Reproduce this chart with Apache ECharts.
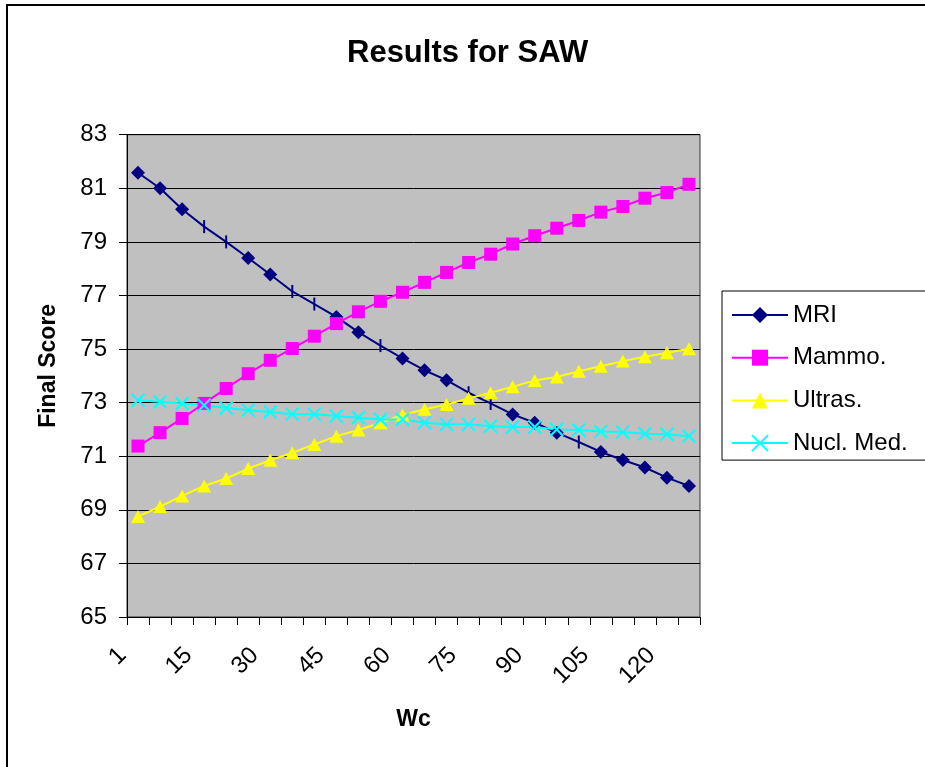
<!DOCTYPE html>
<html>
<head>
<meta charset="utf-8">
<script src="https://cdn.jsdelivr.net/npm/echarts@6/dist/echarts.min.js"></script>
<style>
html,body{margin:0;padding:0;background:#fff;}
#chart{width:925px;height:767px;}
</style>
</head>
<body>
<div id="chart"></div>
<script>
const categories = ['1','5','10','15','20','25','30','35','40','45','50','55','60','65','70','75','80','85','90','95','100','105','110','115','120','125'];
const mri = [81.58, 81.0, 80.22, 79.57, 79.0, 78.4, 77.78, 77.15, 76.68, 76.2, 75.63, 75.13, 74.65, 74.21, 73.84, 73.37, 72.97, 72.56, 72.25, 71.88, 71.53, 71.16, 70.86, 70.58, 70.2, 69.89];
const mammo = [71.38, 71.88, 72.41, 72.97, 73.53, 74.08, 74.58, 75.02, 75.48, 75.95, 76.39, 76.78, 77.12, 77.49, 77.86, 78.23, 78.54, 78.92, 79.23, 79.51, 79.8, 80.11, 80.32, 80.63, 80.84, 81.15];
const ultras = [68.75, 69.12, 69.52, 69.89, 70.17, 70.54, 70.85, 71.13, 71.44, 71.75, 71.98, 72.25, 72.54, 72.75, 72.93, 73.16, 73.37, 73.59, 73.83, 73.96, 74.17, 74.36, 74.55, 74.71, 74.86, 75.01];
const nuclMed = [73.09, 73.03, 72.97, 72.9, 72.8, 72.72, 72.65, 72.57, 72.57, 72.5, 72.44, 72.37, 72.37, 72.25, 72.19, 72.19, 72.12, 72.09, 72.09, 72.0, 71.98, 71.92, 71.9, 71.84, 71.82, 71.75];
const seriesNames = ['MRI', 'Mammo.', 'Ultras.', 'Nucl. Med.'];
const yTicks = {min: 65, max: 83, interval: 2};
// MRI points that are drawn as a thin vertical stroke in the original
const thinMarkerIdx = [3, 4, 7, 8, 11, 15, 16, 20];

const FONT = "'Liberation Sans', Arial, sans-serif";
const chart = echarts.init(document.getElementById('chart'), null, {renderer: 'canvas'});

const mriData = mri.map((v, i) => thinMarkerIdx.includes(i)
  ? {value: v, symbol: 'rect', symbolSize: [2, 13]}
  : v);

const crossPath = 'path://M0,0L10,10M10,0L0,10';

chart.setOption({
  animation: false,
  backgroundColor: '#ffffff',
  textStyle: {fontFamily: FONT},
  title: {
    text: 'Results for SAW',
    left: 347, top: 38,
    padding: 0,
    textStyle: {fontFamily: FONT, fontSize: 31, fontWeight: 'bold', color: '#000'}
  },
  graphic: [{
    type: 'rect',
    shape: {x: 7, y: 5, width: 940, height: 800},
    style: {fill: 'none', stroke: '#000', lineWidth: 2},
    silent: true, z: 100
  }],
  legend: {
    orient: 'vertical',
    left: 722, top: 291,
    padding: [12, 20, 5, 9],
    itemWidth: 56, itemHeight: 20, itemGap: 18.7,
    borderColor: '#000', borderWidth: 1,
    backgroundColor: '#fff',
    textStyle: {fontFamily: FONT, fontSize: 24, color: '#000', lineHeight: 24, padding: [0, 0, 0, 0]},
    data: seriesNames
  },
  grid: {
    left: 127, right: 225, top: 134.7, bottom: 150,
    show: true, backgroundColor: '#c0c0c0', borderColor: '#333', borderWidth: 1,
    containLabel: false
  },
  xAxis: {
    type: 'category',
    data: categories,
    boundaryGap: true,
    name: 'Wc',
    nameLocation: 'middle',
    nameGap: 91,
    nameTextStyle: {fontFamily: FONT, fontSize: 23, fontWeight: 'bold', color: '#000'},
    axisLine: {lineStyle: {color: '#000', width: 1}},
    axisTick: {show: true, interval: 0, length: 8, lineStyle: {color: '#000'}},
    axisLabel: {interval: 2, rotate: 45, margin: 19, padding: [0, 22, 0, 0], fontFamily: FONT, fontSize: 24, color: '#000'},
    splitLine: {show: false}
  },
  yAxis: {
    type: 'value',
    min: yTicks.min, max: yTicks.max, interval: yTicks.interval,
    name: 'Final Score',
    nameLocation: 'middle',
    nameGap: 67,
    nameRotate: 90,
    nameTextStyle: {fontFamily: FONT, fontSize: 23, fontWeight: 'bold', color: '#000', padding: [0, 0, 0, 20]},
    axisLine: {show: true, lineStyle: {color: '#000', width: 1}},
    axisTick: {show: true, length: 8, lineStyle: {color: '#000'}},
    axisLabel: {margin: 20, fontFamily: FONT, fontSize: 24, color: '#000'},
    splitLine: {show: true, lineStyle: {color: '#000', width: 1}}
  },
  series: [
    {
      name: seriesNames[0], type: 'line', data: mriData,
      symbol: 'diamond', symbolSize: 14,
      lineStyle: {color: '#000080', width: 2},
      itemStyle: {color: '#000080'}
    },
    {
      name: seriesNames[1], type: 'line', data: mammo,
      symbol: 'rect', symbolSize: 13,
      lineStyle: {color: '#ff00ff', width: 2},
      itemStyle: {color: '#ff00ff'}
    },
    {
      name: seriesNames[2], type: 'line', data: ultras,
      symbol: 'triangle', symbolSize: [14, 13],
      lineStyle: {color: '#ffff00', width: 2},
      itemStyle: {color: '#ffff00'}
    },
    {
      name: seriesNames[3], type: 'line', data: nuclMed,
      symbol: crossPath, symbolSize: 13,
      lineStyle: {color: '#00ffff', width: 2},
      itemStyle: {color: 'rgba(0,0,0,0)', borderColor: '#00ffff', borderWidth: 2}
    }
  ]
});
</script>
</body>
</html>
